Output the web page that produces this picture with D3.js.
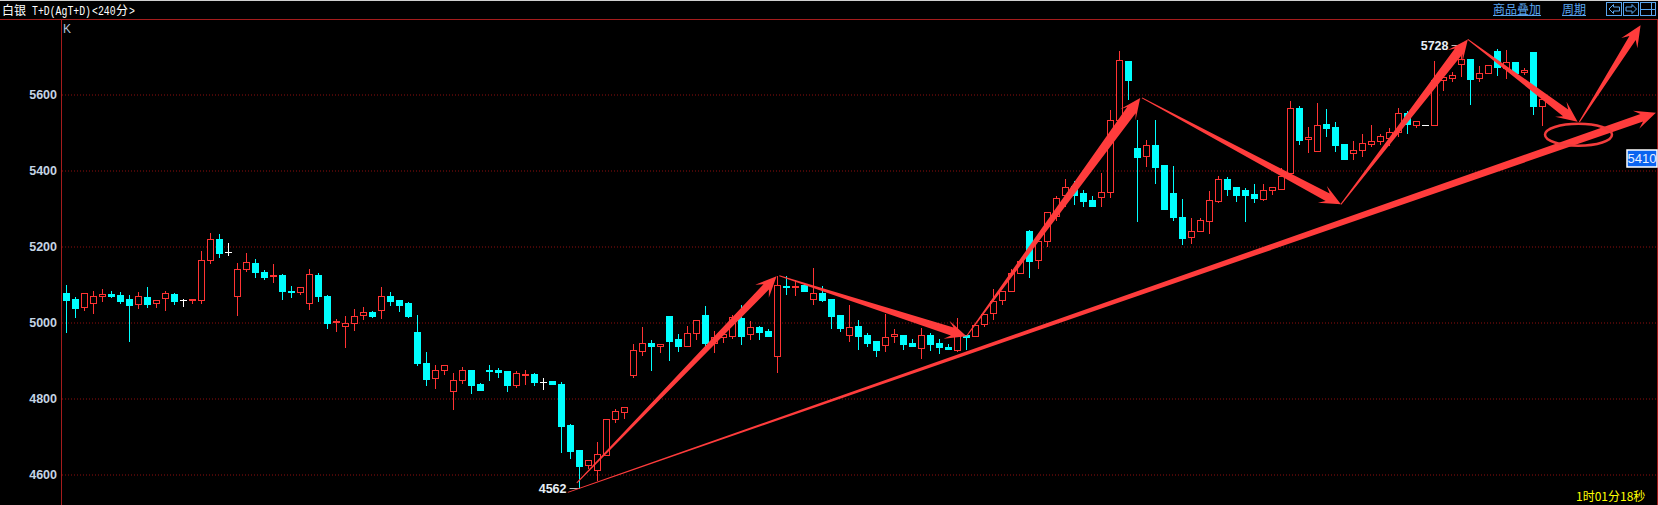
<!DOCTYPE html>
<html>
<head>
<meta charset="utf-8">
<title>白银 T+D K线</title>
<script src="https://cdn.jsdelivr.net/npm/d3@7/dist/d3.min.js"></script>
<style>
  html, body { margin: 0; padding: 0; background: #000; overflow: hidden; }
  svg { display: block; }
  text { font-family: "Liberation Sans", sans-serif; }
  .cjk { font-family: "Noto Sans CJK SC", sans-serif; }
  .mono { font-family: "Liberation Mono", monospace; }
</style>
</head>
<body>
<div id="chart"></div>
<script>
// Daily-style 240 minute candles (price units)
const opens = [
  5077, 5061, 5039, 5049, 5068, 5075, 5072, 5061, 5047, 5067,
  5049, 5062, 5075, 5059, 5057, 5057, 5162, 5219, 5183, 5068,
  5139, 5156, 5132, 5120, 5125, 5082, 5078, 5049, 5125, 5069,
  4999, 4989, 4997, 5018, 5027, 5031, 5069, 5059, 5051, 4975,
  4893, 4852, 4873, 4818, 4847, 4875, 4838, 4875, 4875, 4872,
  4835, 4861, 4864, 4843, 4845, 4838, 4730, 4664, 4623, 4610,
  4651, 4744, 4762, 4860, 4925, 4945, 4936, 5017, 4956, 4938,
  4970, 5019, 4945, 4961, 4964, 5011, 4968, 4988, 4977, 4910,
  5096, 5093, 5097, 5061, 5077, 5061, 5019, 4965, 4990, 4967,
  4951, 4939, 4963, 4967, 4946, 4931, 4967, 4946, 4935, 4926,
  4966, 4962, 4994, 5023, 5057, 5081, 5128, 5240, 5162, 5212,
  5280, 5334, 5359, 5340, 5322, 5329, 5341, 5531, 5688, 5459,
  5436, 5467, 5414, 5340, 5277, 5223, 5239, 5265, 5319, 5377,
  5354, 5348, 5338, 5325, 5347, 5349, 5391, 5564, 5482, 5449,
  5522, 5514, 5469, 5445, 5453, 5469, 5476, 5484, 5500, 5550,
  5519, 5518, 5518, 5636, 5641, 5678, 5693, 5641, 5654, 5714,
  5669, 5684, 5657, 5711, 5569
];
const closes = [
  5059, 5038, 5076, 5068, 5074, 5069, 5056, 5046, 5068, 5048,
  5058, 5076, 5056, 5059, 5061, 5163, 5218, 5182, 5183, 5139,
  5158, 5132, 5118, 5124, 5082, 5078, 5092, 5126, 5069, 4998,
  5003, 4997, 5016, 5026, 5017, 5068, 5056, 5046, 5017, 4893,
  4851, 4874, 4887, 4847, 4874, 4835, 4822, 4873, 4869, 4835,
  4866, 4864, 4843, 4843, 4838, 4727, 4661, 4622, 4637, 4653,
  4746, 4766, 4776, 4926, 4945, 4938, 4942, 4951, 4938, 4971,
  5005, 4946, 4961, 4969, 5013, 4964, 4987, 4975, 4964, 5098,
  5094, 5094, 5082, 5076, 5059, 5017, 4983, 4987, 4964, 4946,
  4927, 4961, 4968, 4943, 4938, 4966, 4943, 4933, 4930, 4964,
  4961, 4991, 5020, 5055, 5082, 5129, 5160, 5161, 5213, 5290,
  5326, 5355, 5335, 5319, 5304, 5342, 5532, 5689, 5638, 5435,
  5466, 5409, 5298, 5275, 5222, 5240, 5268, 5321, 5376, 5351,
  5335, 5335, 5327, 5347, 5354, 5385, 5563, 5480, 5487, 5518,
  5511, 5467, 5430, 5453, 5471, 5476, 5489, 5500, 5550, 5522,
  5528, 5518, 5638, 5645, 5651, 5692, 5640, 5655, 5677, 5670,
  5684, 5656, 5663, 5569, 5587
];
const highs = [
  5101, 5069, 5079, 5085, 5090, 5085, 5082, 5075, 5082, 5096,
  5061, 5085, 5080, 5064, 5064, 5190, 5238, 5235, 5211, 5159,
  5185, 5169, 5140, 5156, 5130, 5098, 5095, 5143, 5132, 5075,
  5011, 5019, 5038, 5043, 5032, 5096, 5082, 5061, 5056, 5022,
  4925, 4890, 4888, 4869, 4884, 4875, 4843, 4890, 4882, 4875,
  4875, 4877, 4869, 4856, 4848, 4846, 4735, 4664, 4637, 4688,
  4748, 4774, 4780, 4946, 4990, 4956, 4945, 5017, 4971, 4993,
  5008, 5046, 4980, 4971, 5021, 5048, 5004, 4993, 4985, 5124,
  5125, 5113, 5103, 5146, 5098, 5064, 5022, 5048, 5009, 4975,
  4951, 5025, 4983, 4969, 4959, 4988, 4975, 4959, 4946, 5014,
  4966, 4991, 5020, 5090, 5082, 5143, 5160, 5245, 5213, 5293,
  5333, 5380, 5375, 5351, 5333, 5396, 5561, 5717, 5690, 5535,
  5482, 5535, 5414, 5414, 5327, 5275, 5277, 5348, 5388, 5383,
  5359, 5354, 5367, 5367, 5359, 5409, 5585, 5572, 5517, 5580,
  5564, 5530, 5469, 5480, 5498, 5522, 5498, 5513, 5566, 5559,
  5529, 5518, 5690, 5655, 5660, 5728, 5693, 5677, 5677, 5720,
  5719, 5688, 5672, 5711, 5594
];
const lows = [
  4975, 5014, 5032, 5025, 5056, 5066, 5051, 4951, 5038, 5040,
  5040, 5032, 5048, 5043, 5051, 5051, 5156, 5172, 5177, 5019,
  5135, 5119, 5114, 5104, 5061, 5067, 5075, 5035, 5056, 4983,
  4977, 4935, 4980, 5009, 5014, 5011, 5046, 5030, 5014, 4888,
  4833, 4827, 4864, 4772, 4839, 4814, 4822, 4848, 4856, 4819,
  4830, 4838, 4835, 4825, 4838, 4659, 4643, 4562, 4617, 4585,
  4651, 4738, 4748, 4854, 4914, 4875, 4922, 4901, 4925, 4936,
  4956, 4938, 4922, 4948, 4959, 4943, 4956, 4954, 4964, 4869,
  5075, 5072, 5082, 5048, 5054, 4983, 4977, 4951, 4930, 4938,
  4911, 4925, 4948, 4930, 4938, 4906, 4927, 4919, 4930, 4923,
  4930, 4962, 4990, 5009, 5048, 5081, 5128, 5119, 5143, 5199,
  5269, 5304, 5311, 5304, 5304, 5306, 5330, 5531, 5588, 5267,
  5411, 5367, 5298, 5269, 5204, 5209, 5239, 5235, 5317, 5335,
  5319, 5267, 5317, 5322, 5338, 5349, 5391, 5469, 5448, 5449,
  5490, 5451, 5430, 5430, 5436, 5464, 5469, 5467, 5489, 5497,
  5514, 5518, 5518, 5611, 5634, 5648, 5575, 5635, 5654, 5651,
  5642, 5656, 5653, 5548, 5519
];

const yTicks = [4600, 4800, 5000, 5200, 5400, 5600];

// Hand drawn arrows on the picture, as [candle index, price]
const arrowStarts = [
  [55.7, 4553], [56.7, 4578], [79.2, 5123], [100, 4964],
  [119.5, 5591], [141.6, 5311], [155.7, 5745], [168.1, 5528]
];
const arrowEnds = [
  [176.6, 5552], [78.9, 5122], [100, 4964], [119.3, 5591],
  [141.6, 5311], [155.7, 5745], [167.9, 5528], [174.9, 5782]
];
const circled = [168, 5494];

const extremes = [[57, 4562], [155, 5728]];
const priceTag = 5410;
const priceTagAt = 5432;
const titleName = "白银";
const titleCode = "T+D(AgT+D)";
const titlePeriod = "<240";
const titleUnit = "分";
const countdown = "1时01分18秒";

const width = 1658;
const height = 505;

const svg = d3.select("#chart")
  .append("svg")
    .attr("width", width)
    .attr("height", height);

svg.append("rect")
  .attr("width", width)
  .attr("height", height)
  .attr("fill", "#000");

const xScale = d3.scaleLinear().domain([0, opens.length - 1]).range([66.5, 1542.5]);
const yScale = d3.scaleLinear().domain([4600, 5600]).range([474.5, 94.5]);
const py = v => Math.round(yScale(v) - 0.5) + 0.5;

const RED = "#ff3333";
const CYAN = "#00ffff";
const LINE = "#a51c1c";
const BLUE = "#5aa6f0";
const ARROW = "#ff3c3c";

// Frame
svg.append("rect").attr("width", width).attr("height", 1).attr("fill", "#d0d0d0");
svg.append("line").attr("x1", 0).attr("x2", width).attr("y1", 19.5).attr("y2", 19.5).attr("stroke", LINE);
svg.append("line").attr("x1", 61.5).attr("x2", 61.5).attr("y1", 20).attr("y2", height).attr("stroke", LINE);
svg.append("line").attr("x1", 1657.5).attr("x2", 1657.5).attr("y1", 20).attr("y2", height).attr("stroke", LINE);

// Dotted grid, then the labels
const grid = svg.append("g")
  .attr("transform", "translate(62,0)")
  .call(d3.axisRight(yScale).tickValues(yTicks).tickSize(1595).tickFormat(""));
grid.select(".domain").remove();
grid.selectAll("line")
  .attr("stroke", "#8f0f0f")
  .attr("stroke-dasharray", "1 2");

const yAxis = svg.append("g")
  .attr("transform", "translate(61,0)")
  .call(d3.axisLeft(yScale).tickValues(yTicks).tickSize(0).tickPadding(4).tickFormat(d3.format("d")));
yAxis.select(".domain").remove();
yAxis.selectAll("text")
  .attr("fill", "#c4d4e4")
  .style("font-family", '"Liberation Sans", sans-serif')
  .style("font-size", "12.5px")
  .style("font-weight", "bold");

svg.append("text")
  .attr("x", 63)
  .attr("y", 33)
  .attr("fill", "#b0c4d8")
  .style("font-size", "12px")
  .text("K");

// Candles
const candles = d3.range(opens.length).map(i => ({
  i, open: opens[i], close: closes[i], high: highs[i], low: lows[i]
}));
const colourOf = d => d.close > d.open ? RED : d.close < d.open ? CYAN : "#ffffff";

const candle = svg.append("g").attr("class", "candles")
  .attr("shape-rendering", "crispEdges")
  .selectAll("g")
  .data(candles)
  .join("g");

candle.append("line")
  .attr("x1", d => xScale(d.i))
  .attr("x2", d => xScale(d.i))
  .attr("y1", d => py(d.high))
  .attr("y2", d => py(d.low))
  .attr("stroke", colourOf);

// rising candles are hollow, falling are solid
candle.filter(d => d.close > d.open).append("rect")
  .attr("x", d => xScale(d.i) - 3)
  .attr("width", 6)
  .attr("y", d => py(d.close))
  .attr("height", d => Math.max(1, py(d.open) - py(d.close)))
  .attr("fill", "#000")
  .attr("stroke", RED);

candle.filter(d => d.close < d.open).append("rect")
  .attr("x", d => xScale(d.i) - 3.5)
  .attr("width", 7)
  .attr("y", d => py(d.open) - 0.5)
  .attr("height", d => Math.max(2, py(d.close) - py(d.open) + 1))
  .attr("fill", CYAN);

candle.filter(d => d.close === d.open).append("line")
  .attr("x1", d => xScale(d.i) - 3.5)
  .attr("x2", d => xScale(d.i) + 3.5)
  .attr("y1", d => py(d.close))
  .attr("y2", d => py(d.close))
  .attr("stroke", "#fff");

// High / low markers
extremes.forEach(([i, price]) => {
  const x = xScale(i);
  const y = py(price);
  svg.append("line")
    .attr("x1", x - 10).attr("x2", x)
    .attr("y1", y).attr("y2", y)
    .attr("stroke", "#b8b8b8");
  svg.append("text")
    .attr("x", x - 13)
    .attr("y", y + 4.5)
    .attr("text-anchor", "end")
    .attr("fill", "#e6eef6")
    .style("font-size", "12.5px")
    .style("font-weight", "bold")
    .text(price);
});

// Tapered hand drawn arrows
const arrowShaft = [8, 7.5, 8.5, 10.5, 8.5, 9.5, 8.5, 7.5];
const arrowPath = d3.line();
arrowStarts.forEach((start, k) => {
  const a = [xScale(start[0]), yScale(start[1])];
  const b = [xScale(arrowEnds[k][0]), yScale(arrowEnds[k][1])];
  const len = Math.hypot(b[0] - a[0], b[1] - a[1]);
  const ux = (b[0] - a[0]) / len, uy = (b[1] - a[1]) / len;
  const at = (along, side) => [a[0] + ux * along - uy * side, a[1] + uy * along + ux * side];
  const w = arrowShaft[k] / 2;
  svg.append("path")
    .attr("fill", ARROW)
    .attr("d", arrowPath([
      at(0, -0.5), at(len - 15, -w), at(len - 21, -9.5),
      at(len, 0),
      at(len - 21, 9.5), at(len - 15, w), at(0, 0.5)
    ]) + "Z");
});

svg.append("ellipse")
  .attr("cx", xScale(circled[0]))
  .attr("cy", yScale(circled[1]))
  .attr("rx", 33.5)
  .attr("ry", 11)
  .attr("fill", "none")
  .attr("stroke", "#f23c3c")
  .attr("stroke-width", 2.5);

// Price tag on the right
const tag = svg.append("g").attr("transform", `translate(1626,${Math.round(yScale(priceTagAt)) - 9})`);
tag.append("rect")
  .attr("x", 1).attr("y", 1)
  .attr("width", 30).attr("height", 17)
  .attr("fill", "#0a64f0")
  .attr("stroke", "#fff")
  .attr("stroke-width", 1.5);
tag.append("text")
  .attr("x", 16)
  .attr("y", 14)
  .attr("text-anchor", "middle")
  .attr("fill", "#e8f0ff")
  .style("font-size", "13px")
  .text(priceTag);

// Header, left. Squeeze the mono text to the 6px cell of the original font
const narrowText = (label, x) => svg.append("text").attr("class", "mono")
  .attr("transform", `translate(${x},14.5) scale(0.82,1)`)
  .attr("fill", "#fff").style("font-size", "12px")
  .text(label);

svg.append("text").attr("class", "cjk")
  .attr("x", 2).attr("y", 15)
  .attr("fill", "#fff").style("font-size", "12px")
  .text(titleName);
narrowText(titleCode, 32);
narrowText(titlePeriod, 92);
svg.append("text").attr("class", "cjk")
  .attr("x", 116).attr("y", 15)
  .attr("fill", "#fff").style("font-size", "12px")
  .text(titleUnit);
narrowText(">", 129);

// Header, right
[["商品叠加", 1493, 48], ["周期", 1562, 24]].forEach(([label, x, w]) => {
  svg.append("text").attr("class", "cjk")
    .attr("x", x).attr("y", 14)
    .attr("fill", BLUE).style("font-size", "12px")
    .text(label);
  svg.append("line")
    .attr("x1", x).attr("x2", x + w)
    .attr("y1", 15.5).attr("y2", 15.5)
    .attr("stroke", BLUE);
});

const buttons = svg.append("g")
  .attr("fill", "none")
  .attr("stroke", BLUE)
  .attr("shape-rendering", "crispEdges");
[1606.5, 1623.5, 1640.5].forEach(x => {
  buttons.append("rect").attr("x", x).attr("y", 2.5).attr("width", 15).attr("height", 13);
});
const icons = svg.append("g").attr("fill", "none").attr("stroke", BLUE);
icons.append("path").attr("d", "M1609 9 L1613.5 4.5 L1613.5 7 L1619.5 7 L1619.5 11 L1613.5 11 L1613.5 13.5 Z");
icons.append("path").attr("d", "M1636.5 9 L1632 4.5 L1632 7 L1626 7 L1626 11 L1632 11 L1632 13.5 Z");
buttons.append("line").attr("x1", 1640.5).attr("x2", 1655.5).attr("y1", 9.5).attr("y2", 9.5);
buttons.append("line").attr("x1", 1651.5).attr("x2", 1651.5).attr("y1", 2.5).attr("y2", 15.5);

// Countdown in the corner
svg.append("text").attr("class", "cjk")
  .attr("x", 1576).attr("y", 501)
  .attr("fill", "#ffff00")
  .style("font-size", "12px")
  .text(countdown);
</script>
</body>
</html>
